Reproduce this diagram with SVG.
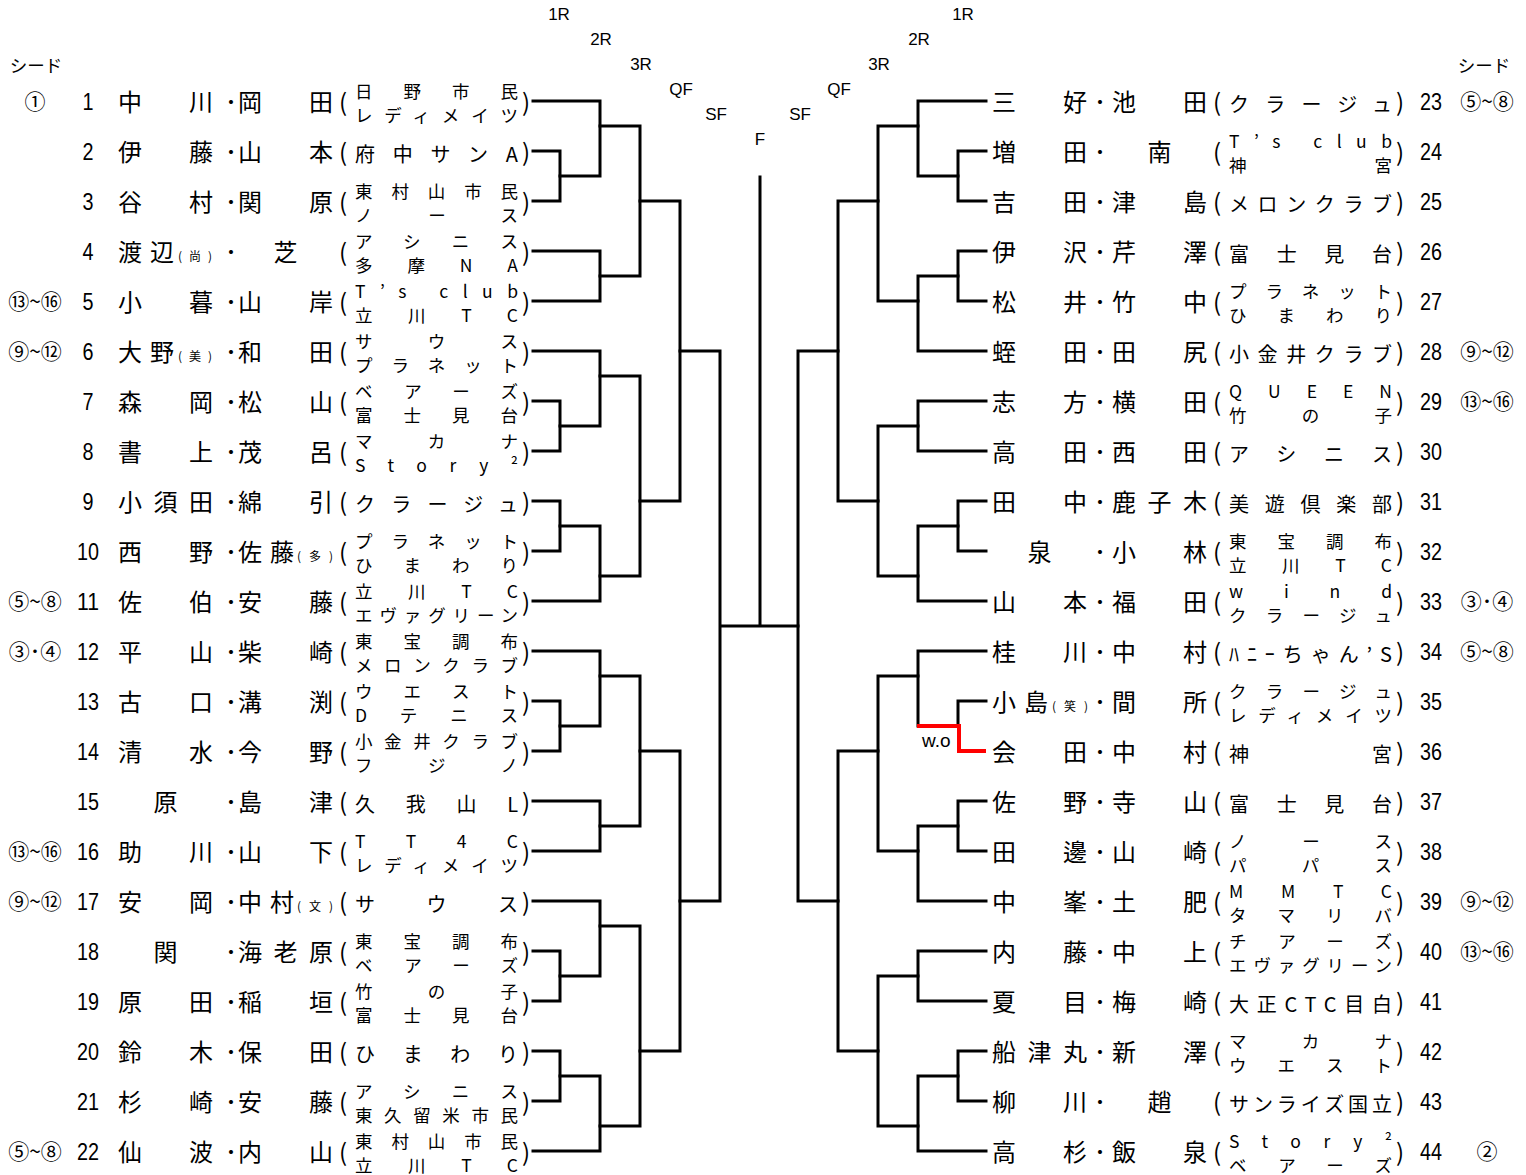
<svg xmlns="http://www.w3.org/2000/svg" width="1526" height="1175" viewBox="0 0 1526 1175">
<style>
text{fill:#000}
.nm{font-family:"Noto Sans CJK JP",sans-serif;font-size:24px}
.c2{font-family:"Noto Sans CJK JP",sans-serif;font-size:17.5px}
.c1{font-family:"Noto Sans CJK JP",sans-serif;font-size:20px}
.sx{font-family:"Noto Sans CJK JP",sans-serif;font-size:12px}
.no{font-family:"Liberation Sans",sans-serif;font-size:23px;text-anchor:middle}
.sd{font-family:"Noto Sans CJK JP",sans-serif;font-size:21px;text-anchor:middle}
.hd{font-family:"Noto Sans CJK JP",sans-serif;font-size:17.5px;text-anchor:middle}
.rd{font-family:"Liberation Sans",sans-serif;font-size:17px;text-anchor:middle}
.m{text-anchor:middle}
.ln{fill:none;stroke:#000;stroke-width:3;stroke-linecap:square}
.wo{fill:none;stroke:#f00;stroke-width:4}
</style>
<g id="header">
<text class="hd" x="36" y="72">シード</text>
<text class="hd" x="1484" y="72">シード</text>
<text class="rd" x="559" y="20">1R</text>
<text class="rd" x="601" y="45">2R</text>
<text class="rd" x="641" y="70">3R</text>
<text class="rd" x="681" y="95">QF</text>
<text class="rd" x="716" y="120">SF</text>
<text class="rd" x="760" y="145">F</text>
<text class="rd" x="800" y="120">SF</text>
<text class="rd" x="839" y="95">QF</text>
<text class="rd" x="879" y="70">3R</text>
<text class="rd" x="919" y="45">2R</text>
<text class="rd" x="963" y="20">1R</text>
</g>
<g id="connectors">
<path class="ln" d="M533 151H560V201H533M533 401H560V451H533M533 501H560V551H533M533 701H560V751H533M533 951H560V1001H533M533 1051H560V1101H533"/>
<path class="ln" d="M533 101H600V176H560M533 251H600V301H533M533 351H600V426H560M560 526H600V601H533M533 651H600V726H560M533 801H600V851H533M533 901H600V976H560M560 1076H600V1151H533"/>
<path class="ln" d="M600 126H640V276H600M600 376H640V576H600M600 676H640V826H600M600 926H640V1126H600"/>
<path class="ln" d="M640 201H680V501H640M640 751H680V1051H640"/>
<path class="ln" d="M680 351H720V901H680M720 626H798M760 177V626"/>
<path class="ln" d="M838 351H798V901H838"/>
<path class="ln" d="M878 201H838V501H878M878 751H838V1051H878"/>
<path class="ln" d="M918 126H878V301H918M918 426H878V576H918M918 676H878V851H918M918 976H878V1126H918"/>
<path class="ln" d="M986 101H918V176H958M958 276H918V351H986M986 401H918V451H986M958 526H918V601H986M986 651H918V726M958 826H918V901H986M986 951H918V1001H986M958 1076H918V1151H986"/>
<path class="ln" d="M986 151H958V201H986M986 251H958V301H986M986 501H958V551H986M986 701H958V726M986 801H958V851H986M986 1051H958V1101H986"/>
<path class="wo" d="M917 726H959V751H986"/>
<text x="922" y="747" style="font-family:'Liberation Sans',sans-serif;font-size:19px">w.o</text>
</g>

<g id="p1" transform="translate(0,101)"><text class="sd" x="35" y="8">①</text><text class="no" x="88" y="9" textLength="11" lengthAdjust="spacingAndGlyphs">1</text><text class="nm" x="118" y="10" textLength="95">中川</text><text class="nm m" x="231" y="10">･</text><text class="nm" x="238" y="10" textLength="95">岡田</text><text class="nm m" x="343" y="10">(</text><text class="c2" x="355" y="-3" textLength="163">日野市民</text><text class="c2" x="355" y="21" textLength="163">レディメイツ</text><text class="nm m" x="526" y="10">)</text></g>
<g id="p2" transform="translate(0,151)"><text class="no" x="88" y="9" textLength="11" lengthAdjust="spacingAndGlyphs">2</text><text class="nm" x="118" y="10" textLength="95">伊藤</text><text class="nm m" x="231" y="10">･</text><text class="nm" x="238" y="10" textLength="95">山本</text><text class="nm m" x="343" y="10">(</text><text class="c1" x="355" y="11" textLength="163">府中サンA</text><text class="nm m" x="526" y="10">)</text></g>
<g id="p3" transform="translate(0,201)"><text class="no" x="88" y="9" textLength="11" lengthAdjust="spacingAndGlyphs">3</text><text class="nm" x="118" y="10" textLength="95">谷村</text><text class="nm m" x="231" y="10">･</text><text class="nm" x="238" y="10" textLength="95">関原</text><text class="nm m" x="343" y="10">(</text><text class="c2" x="355" y="-3" textLength="163">東村山市民</text><text class="c2" x="355" y="21" textLength="163">ノース</text><text class="nm m" x="526" y="10">)</text></g>
<g id="p4" transform="translate(0,251)"><text class="no" x="88" y="9" textLength="11" lengthAdjust="spacingAndGlyphs">4</text><text class="nm" x="118" y="10" textLength="56">渡辺</text><text class="sx" x="178" y="10" textLength="34">(尚)</text><text class="nm m" x="231" y="10">･</text><text class="nm m" x="285.5" y="10">芝</text><text class="nm m" x="343" y="10">(</text><text class="c2" x="355" y="-3" textLength="163">アシニス</text><text class="c2" x="355" y="21" textLength="163">多摩NA</text><text class="nm m" x="526" y="10">)</text></g>
<g id="p5" transform="translate(0,301)"><text class="sd" x="35" y="8">⑬~⑯</text><text class="no" x="88" y="9" textLength="11" lengthAdjust="spacingAndGlyphs">5</text><text class="nm" x="118" y="10" textLength="95">小暮</text><text class="nm m" x="231" y="10">･</text><text class="nm" x="238" y="10" textLength="95">山岸</text><text class="nm m" x="343" y="10">(</text><text class="c2" x="355" y="-3" textLength="163">T’s club</text><text class="c2" x="355" y="21" textLength="163">立川TC</text><text class="nm m" x="526" y="10">)</text></g>
<g id="p6" transform="translate(0,351)"><text class="sd" x="35" y="8">⑨~⑫</text><text class="no" x="88" y="9" textLength="11" lengthAdjust="spacingAndGlyphs">6</text><text class="nm" x="118" y="10" textLength="56">大野</text><text class="sx" x="178" y="10" textLength="34">(美)</text><text class="nm m" x="231" y="10">･</text><text class="nm" x="238" y="10" textLength="95">和田</text><text class="nm m" x="343" y="10">(</text><text class="c2" x="355" y="-3" textLength="163">サウス</text><text class="c2" x="355" y="21" textLength="163">プラネット</text><text class="nm m" x="526" y="10">)</text></g>
<g id="p7" transform="translate(0,401)"><text class="no" x="88" y="9" textLength="11" lengthAdjust="spacingAndGlyphs">7</text><text class="nm" x="118" y="10" textLength="95">森岡</text><text class="nm m" x="231" y="10">･</text><text class="nm" x="238" y="10" textLength="95">松山</text><text class="nm m" x="343" y="10">(</text><text class="c2" x="355" y="-3" textLength="163">ベアーズ</text><text class="c2" x="355" y="21" textLength="163">富士見台</text><text class="nm m" x="526" y="10">)</text></g>
<g id="p8" transform="translate(0,451)"><text class="no" x="88" y="9" textLength="11" lengthAdjust="spacingAndGlyphs">8</text><text class="nm" x="118" y="10" textLength="95">書上</text><text class="nm m" x="231" y="10">･</text><text class="nm" x="238" y="10" textLength="95">茂呂</text><text class="nm m" x="343" y="10">(</text><text class="c2" x="355" y="-3" textLength="163">マカナ</text><text class="c2" x="355" y="21" textLength="163">Story²</text><text class="nm m" x="526" y="10">)</text></g>
<g id="p9" transform="translate(0,501)"><text class="no" x="88" y="9" textLength="11" lengthAdjust="spacingAndGlyphs">9</text><text class="nm" x="118" y="10" textLength="95">小須田</text><text class="nm m" x="231" y="10">･</text><text class="nm" x="238" y="10" textLength="95">綿引</text><text class="nm m" x="343" y="10">(</text><text class="c1" x="355" y="11" textLength="163">クラージュ</text><text class="nm m" x="526" y="10">)</text></g>
<g id="p10" transform="translate(0,551)"><text class="no" x="88" y="9" textLength="22" lengthAdjust="spacingAndGlyphs">10</text><text class="nm" x="118" y="10" textLength="95">西野</text><text class="nm m" x="231" y="10">･</text><text class="nm" x="238" y="10" textLength="56">佐藤</text><text class="sx" x="297" y="10" textLength="36">(多)</text><text class="nm m" x="343" y="10">(</text><text class="c2" x="355" y="-3" textLength="163">プラネット</text><text class="c2" x="355" y="21" textLength="163">ひまわり</text><text class="nm m" x="526" y="10">)</text></g>
<g id="p11" transform="translate(0,601)"><text class="sd" x="35" y="8">⑤~⑧</text><text class="no" x="88" y="9" textLength="22" lengthAdjust="spacingAndGlyphs">11</text><text class="nm" x="118" y="10" textLength="95">佐伯</text><text class="nm m" x="231" y="10">･</text><text class="nm" x="238" y="10" textLength="95">安藤</text><text class="nm m" x="343" y="10">(</text><text class="c2" x="355" y="-3" textLength="163">立川TC</text><text class="c2" x="355" y="21" textLength="163">エヴァグリーン</text><text class="nm m" x="526" y="10">)</text></g>
<g id="p12" transform="translate(0,651)"><text class="sd" x="35" y="8">③･④</text><text class="no" x="88" y="9" textLength="22" lengthAdjust="spacingAndGlyphs">12</text><text class="nm" x="118" y="10" textLength="95">平山</text><text class="nm m" x="231" y="10">･</text><text class="nm" x="238" y="10" textLength="95">柴崎</text><text class="nm m" x="343" y="10">(</text><text class="c2" x="355" y="-3" textLength="163">東宝調布</text><text class="c2" x="355" y="21" textLength="163">メロンクラブ</text><text class="nm m" x="526" y="10">)</text></g>
<g id="p13" transform="translate(0,701)"><text class="no" x="88" y="9" textLength="22" lengthAdjust="spacingAndGlyphs">13</text><text class="nm" x="118" y="10" textLength="95">古口</text><text class="nm m" x="231" y="10">･</text><text class="nm" x="238" y="10" textLength="95">溝渕</text><text class="nm m" x="343" y="10">(</text><text class="c2" x="355" y="-3" textLength="163">ウエスト</text><text class="c2" x="355" y="21" textLength="163">Dテニス</text><text class="nm m" x="526" y="10">)</text></g>
<g id="p14" transform="translate(0,751)"><text class="no" x="88" y="9" textLength="22" lengthAdjust="spacingAndGlyphs">14</text><text class="nm" x="118" y="10" textLength="95">清水</text><text class="nm m" x="231" y="10">･</text><text class="nm" x="238" y="10" textLength="95">今野</text><text class="nm m" x="343" y="10">(</text><text class="c2" x="355" y="-3" textLength="163">小金井クラブ</text><text class="c2" x="355" y="21" textLength="163">フジノ</text><text class="nm m" x="526" y="10">)</text></g>
<g id="p15" transform="translate(0,801)"><text class="no" x="88" y="9" textLength="22" lengthAdjust="spacingAndGlyphs">15</text><text class="nm m" x="165.5" y="10">原</text><text class="nm m" x="231" y="10">･</text><text class="nm" x="238" y="10" textLength="95">島津</text><text class="nm m" x="343" y="10">(</text><text class="c1" x="355" y="11" textLength="163">久我山L</text><text class="nm m" x="526" y="10">)</text></g>
<g id="p16" transform="translate(0,851)"><text class="sd" x="35" y="8">⑬~⑯</text><text class="no" x="88" y="9" textLength="22" lengthAdjust="spacingAndGlyphs">16</text><text class="nm" x="118" y="10" textLength="95">助川</text><text class="nm m" x="231" y="10">･</text><text class="nm" x="238" y="10" textLength="95">山下</text><text class="nm m" x="343" y="10">(</text><text class="c2" x="355" y="-3" textLength="163">TT4C</text><text class="c2" x="355" y="21" textLength="163">レディメイツ</text><text class="nm m" x="526" y="10">)</text></g>
<g id="p17" transform="translate(0,901)"><text class="sd" x="35" y="8">⑨~⑫</text><text class="no" x="88" y="9" textLength="22" lengthAdjust="spacingAndGlyphs">17</text><text class="nm" x="118" y="10" textLength="95">安岡</text><text class="nm m" x="231" y="10">･</text><text class="nm" x="238" y="10" textLength="56">中村</text><text class="sx" x="297" y="10" textLength="36">(文)</text><text class="nm m" x="343" y="10">(</text><text class="c1" x="355" y="11" textLength="163">サウス</text><text class="nm m" x="526" y="10">)</text></g>
<g id="p18" transform="translate(0,951)"><text class="no" x="88" y="9" textLength="22" lengthAdjust="spacingAndGlyphs">18</text><text class="nm m" x="165.5" y="10">関</text><text class="nm m" x="231" y="10">･</text><text class="nm" x="238" y="10" textLength="95">海老原</text><text class="nm m" x="343" y="10">(</text><text class="c2" x="355" y="-3" textLength="163">東宝調布</text><text class="c2" x="355" y="21" textLength="163">ベアーズ</text><text class="nm m" x="526" y="10">)</text></g>
<g id="p19" transform="translate(0,1001)"><text class="no" x="88" y="9" textLength="22" lengthAdjust="spacingAndGlyphs">19</text><text class="nm" x="118" y="10" textLength="95">原田</text><text class="nm m" x="231" y="10">･</text><text class="nm" x="238" y="10" textLength="95">稲垣</text><text class="nm m" x="343" y="10">(</text><text class="c2" x="355" y="-3" textLength="163">竹の子</text><text class="c2" x="355" y="21" textLength="163">富士見台</text><text class="nm m" x="526" y="10">)</text></g>
<g id="p20" transform="translate(0,1051)"><text class="no" x="88" y="9" textLength="22" lengthAdjust="spacingAndGlyphs">20</text><text class="nm" x="118" y="10" textLength="95">鈴木</text><text class="nm m" x="231" y="10">･</text><text class="nm" x="238" y="10" textLength="95">保田</text><text class="nm m" x="343" y="10">(</text><text class="c1" x="355" y="11" textLength="163">ひまわり</text><text class="nm m" x="526" y="10">)</text></g>
<g id="p21" transform="translate(0,1101)"><text class="no" x="88" y="9" textLength="22" lengthAdjust="spacingAndGlyphs">21</text><text class="nm" x="118" y="10" textLength="95">杉崎</text><text class="nm m" x="231" y="10">･</text><text class="nm" x="238" y="10" textLength="95">安藤</text><text class="nm m" x="343" y="10">(</text><text class="c2" x="355" y="-3" textLength="163">アシニス</text><text class="c2" x="355" y="21" textLength="163">東久留米市民</text><text class="nm m" x="526" y="10">)</text></g>
<g id="p22" transform="translate(0,1151)"><text class="sd" x="35" y="8">⑤~⑧</text><text class="no" x="88" y="9" textLength="22" lengthAdjust="spacingAndGlyphs">22</text><text class="nm" x="118" y="10" textLength="95">仙波</text><text class="nm m" x="231" y="10">･</text><text class="nm" x="238" y="10" textLength="95">内山</text><text class="nm m" x="343" y="10">(</text><text class="c2" x="355" y="-3" textLength="163">東村山市民</text><text class="c2" x="355" y="21" textLength="163">立川TC</text><text class="nm m" x="526" y="10">)</text></g>

<g id="p23" transform="translate(0,101)"><text class="nm" x="992" y="10" textLength="95">三好</text><text class="nm m" x="1100" y="10">･</text><text class="nm" x="1112" y="10" textLength="95">池田</text><text class="nm m" x="1217" y="10">(</text><text class="c1" x="1229" y="11" textLength="163">クラージュ</text><text class="nm m" x="1400" y="10">)</text><text class="no" x="1431" y="9" textLength="22" lengthAdjust="spacingAndGlyphs">23</text><text class="sd" x="1487" y="8">⑤~⑧</text></g>
<g id="p24" transform="translate(0,151)"><text class="nm" x="992" y="10" textLength="95">増田</text><text class="nm m" x="1100" y="10">･</text><text class="nm m" x="1159.5" y="10">南</text><text class="nm m" x="1217" y="10">(</text><text class="c2" x="1229" y="-3" textLength="163">T’s club</text><text class="c2" x="1229" y="21" textLength="163">神宮</text><text class="nm m" x="1400" y="10">)</text><text class="no" x="1431" y="9" textLength="22" lengthAdjust="spacingAndGlyphs">24</text></g>
<g id="p25" transform="translate(0,201)"><text class="nm" x="992" y="10" textLength="95">吉田</text><text class="nm m" x="1100" y="10">･</text><text class="nm" x="1112" y="10" textLength="95">津島</text><text class="nm m" x="1217" y="10">(</text><text class="c1" x="1229" y="11" textLength="163">メロンクラブ</text><text class="nm m" x="1400" y="10">)</text><text class="no" x="1431" y="9" textLength="22" lengthAdjust="spacingAndGlyphs">25</text></g>
<g id="p26" transform="translate(0,251)"><text class="nm" x="992" y="10" textLength="95">伊沢</text><text class="nm m" x="1100" y="10">･</text><text class="nm" x="1112" y="10" textLength="95">芹澤</text><text class="nm m" x="1217" y="10">(</text><text class="c1" x="1229" y="11" textLength="163">富士見台</text><text class="nm m" x="1400" y="10">)</text><text class="no" x="1431" y="9" textLength="22" lengthAdjust="spacingAndGlyphs">26</text></g>
<g id="p27" transform="translate(0,301)"><text class="nm" x="992" y="10" textLength="95">松井</text><text class="nm m" x="1100" y="10">･</text><text class="nm" x="1112" y="10" textLength="95">竹中</text><text class="nm m" x="1217" y="10">(</text><text class="c2" x="1229" y="-3" textLength="163">プラネット</text><text class="c2" x="1229" y="21" textLength="163">ひまわり</text><text class="nm m" x="1400" y="10">)</text><text class="no" x="1431" y="9" textLength="22" lengthAdjust="spacingAndGlyphs">27</text></g>
<g id="p28" transform="translate(0,351)"><text class="nm" x="992" y="10" textLength="95">蛭田</text><text class="nm m" x="1100" y="10">･</text><text class="nm" x="1112" y="10" textLength="95">田尻</text><text class="nm m" x="1217" y="10">(</text><text class="c1" x="1229" y="11" textLength="163">小金井クラブ</text><text class="nm m" x="1400" y="10">)</text><text class="no" x="1431" y="9" textLength="22" lengthAdjust="spacingAndGlyphs">28</text><text class="sd" x="1487" y="8">⑨~⑫</text></g>
<g id="p29" transform="translate(0,401)"><text class="nm" x="992" y="10" textLength="95">志方</text><text class="nm m" x="1100" y="10">･</text><text class="nm" x="1112" y="10" textLength="95">横田</text><text class="nm m" x="1217" y="10">(</text><text class="c2" x="1229" y="-3" textLength="163">QUEEN</text><text class="c2" x="1229" y="21" textLength="163">竹の子</text><text class="nm m" x="1400" y="10">)</text><text class="no" x="1431" y="9" textLength="22" lengthAdjust="spacingAndGlyphs">29</text><text class="sd" x="1487" y="8">⑬~⑯</text></g>
<g id="p30" transform="translate(0,451)"><text class="nm" x="992" y="10" textLength="95">高田</text><text class="nm m" x="1100" y="10">･</text><text class="nm" x="1112" y="10" textLength="95">西田</text><text class="nm m" x="1217" y="10">(</text><text class="c1" x="1229" y="11" textLength="163">アシニス</text><text class="nm m" x="1400" y="10">)</text><text class="no" x="1431" y="9" textLength="22" lengthAdjust="spacingAndGlyphs">30</text></g>
<g id="p31" transform="translate(0,501)"><text class="nm" x="992" y="10" textLength="95">田中</text><text class="nm m" x="1100" y="10">･</text><text class="nm" x="1112" y="10" textLength="95">鹿子木</text><text class="nm m" x="1217" y="10">(</text><text class="c1" x="1229" y="11" textLength="163">美遊倶楽部</text><text class="nm m" x="1400" y="10">)</text><text class="no" x="1431" y="9" textLength="22" lengthAdjust="spacingAndGlyphs">31</text></g>
<g id="p32" transform="translate(0,551)"><text class="nm m" x="1039.5" y="10">泉</text><text class="nm m" x="1100" y="10">･</text><text class="nm" x="1112" y="10" textLength="95">小林</text><text class="nm m" x="1217" y="10">(</text><text class="c2" x="1229" y="-3" textLength="163">東宝調布</text><text class="c2" x="1229" y="21" textLength="163">立川TC</text><text class="nm m" x="1400" y="10">)</text><text class="no" x="1431" y="9" textLength="22" lengthAdjust="spacingAndGlyphs">32</text></g>
<g id="p33" transform="translate(0,601)"><text class="nm" x="992" y="10" textLength="95">山本</text><text class="nm m" x="1100" y="10">･</text><text class="nm" x="1112" y="10" textLength="95">福田</text><text class="nm m" x="1217" y="10">(</text><text class="c2" x="1229" y="-3" textLength="163">wind</text><text class="c2" x="1229" y="21" textLength="163">クラージュ</text><text class="nm m" x="1400" y="10">)</text><text class="no" x="1431" y="9" textLength="22" lengthAdjust="spacingAndGlyphs">33</text><text class="sd" x="1487" y="8">③･④</text></g>
<g id="p34" transform="translate(0,651)"><text class="nm" x="992" y="10" textLength="95">桂川</text><text class="nm m" x="1100" y="10">･</text><text class="nm" x="1112" y="10" textLength="95">中村</text><text class="nm m" x="1217" y="10">(</text><text class="c1" x="1229" y="11" textLength="163">ﾊﾆｰちゃん’S</text><text class="nm m" x="1400" y="10">)</text><text class="no" x="1431" y="9" textLength="22" lengthAdjust="spacingAndGlyphs">34</text><text class="sd" x="1487" y="8">⑤~⑧</text></g>
<g id="p35" transform="translate(0,701)"><text class="nm" x="992" y="10" textLength="56">小島</text><text class="sx" x="1052" y="10" textLength="36">(笑)</text><text class="nm m" x="1100" y="10">･</text><text class="nm" x="1112" y="10" textLength="95">間所</text><text class="nm m" x="1217" y="10">(</text><text class="c2" x="1229" y="-3" textLength="163">クラージュ</text><text class="c2" x="1229" y="21" textLength="163">レディメイツ</text><text class="nm m" x="1400" y="10">)</text><text class="no" x="1431" y="9" textLength="22" lengthAdjust="spacingAndGlyphs">35</text></g>
<g id="p36" transform="translate(0,751)"><text class="nm" x="992" y="10" textLength="95">会田</text><text class="nm m" x="1100" y="10">･</text><text class="nm" x="1112" y="10" textLength="95">中村</text><text class="nm m" x="1217" y="10">(</text><text class="c1" x="1229" y="11" textLength="163">神宮</text><text class="nm m" x="1400" y="10">)</text><text class="no" x="1431" y="9" textLength="22" lengthAdjust="spacingAndGlyphs">36</text></g>
<g id="p37" transform="translate(0,801)"><text class="nm" x="992" y="10" textLength="95">佐野</text><text class="nm m" x="1100" y="10">･</text><text class="nm" x="1112" y="10" textLength="95">寺山</text><text class="nm m" x="1217" y="10">(</text><text class="c1" x="1229" y="11" textLength="163">富士見台</text><text class="nm m" x="1400" y="10">)</text><text class="no" x="1431" y="9" textLength="22" lengthAdjust="spacingAndGlyphs">37</text></g>
<g id="p38" transform="translate(0,851)"><text class="nm" x="992" y="10" textLength="95">田邊</text><text class="nm m" x="1100" y="10">･</text><text class="nm" x="1112" y="10" textLength="95">山崎</text><text class="nm m" x="1217" y="10">(</text><text class="c2" x="1229" y="-3" textLength="163">ノース</text><text class="c2" x="1229" y="21" textLength="163">パパス</text><text class="nm m" x="1400" y="10">)</text><text class="no" x="1431" y="9" textLength="22" lengthAdjust="spacingAndGlyphs">38</text></g>
<g id="p39" transform="translate(0,901)"><text class="nm" x="992" y="10" textLength="95">中峯</text><text class="nm m" x="1100" y="10">･</text><text class="nm" x="1112" y="10" textLength="95">土肥</text><text class="nm m" x="1217" y="10">(</text><text class="c2" x="1229" y="-3" textLength="163">MMTC</text><text class="c2" x="1229" y="21" textLength="163">タマリバ</text><text class="nm m" x="1400" y="10">)</text><text class="no" x="1431" y="9" textLength="22" lengthAdjust="spacingAndGlyphs">39</text><text class="sd" x="1487" y="8">⑨~⑫</text></g>
<g id="p40" transform="translate(0,951)"><text class="nm" x="992" y="10" textLength="95">内藤</text><text class="nm m" x="1100" y="10">･</text><text class="nm" x="1112" y="10" textLength="95">中上</text><text class="nm m" x="1217" y="10">(</text><text class="c2" x="1229" y="-3" textLength="163">チアーズ</text><text class="c2" x="1229" y="21" textLength="163">エヴァグリーン</text><text class="nm m" x="1400" y="10">)</text><text class="no" x="1431" y="9" textLength="22" lengthAdjust="spacingAndGlyphs">40</text><text class="sd" x="1487" y="8">⑬~⑯</text></g>
<g id="p41" transform="translate(0,1001)"><text class="nm" x="992" y="10" textLength="95">夏目</text><text class="nm m" x="1100" y="10">･</text><text class="nm" x="1112" y="10" textLength="95">梅崎</text><text class="nm m" x="1217" y="10">(</text><text class="c1" x="1229" y="11" textLength="163">大正CTC目白</text><text class="nm m" x="1400" y="10">)</text><text class="no" x="1431" y="9" textLength="22" lengthAdjust="spacingAndGlyphs">41</text></g>
<g id="p42" transform="translate(0,1051)"><text class="nm" x="992" y="10" textLength="95">船津丸</text><text class="nm m" x="1100" y="10">･</text><text class="nm" x="1112" y="10" textLength="95">新澤</text><text class="nm m" x="1217" y="10">(</text><text class="c2" x="1229" y="-3" textLength="163">マカナ</text><text class="c2" x="1229" y="21" textLength="163">ウエスト</text><text class="nm m" x="1400" y="10">)</text><text class="no" x="1431" y="9" textLength="22" lengthAdjust="spacingAndGlyphs">42</text></g>
<g id="p43" transform="translate(0,1101)"><text class="nm" x="992" y="10" textLength="95">柳川</text><text class="nm m" x="1100" y="10">･</text><text class="nm m" x="1159.5" y="10">趙</text><text class="nm m" x="1217" y="10">(</text><text class="c1" x="1229" y="11" textLength="163">サンライズ国立</text><text class="nm m" x="1400" y="10">)</text><text class="no" x="1431" y="9" textLength="22" lengthAdjust="spacingAndGlyphs">43</text></g>
<g id="p44" transform="translate(0,1151)"><text class="nm" x="992" y="10" textLength="95">高杉</text><text class="nm m" x="1100" y="10">･</text><text class="nm" x="1112" y="10" textLength="95">飯泉</text><text class="nm m" x="1217" y="10">(</text><text class="c2" x="1229" y="-3" textLength="163">Story²</text><text class="c2" x="1229" y="21" textLength="163">ベアーズ</text><text class="nm m" x="1400" y="10">)</text><text class="no" x="1431" y="9" textLength="22" lengthAdjust="spacingAndGlyphs">44</text><text class="sd" x="1487" y="8">②</text></g>
</svg>
